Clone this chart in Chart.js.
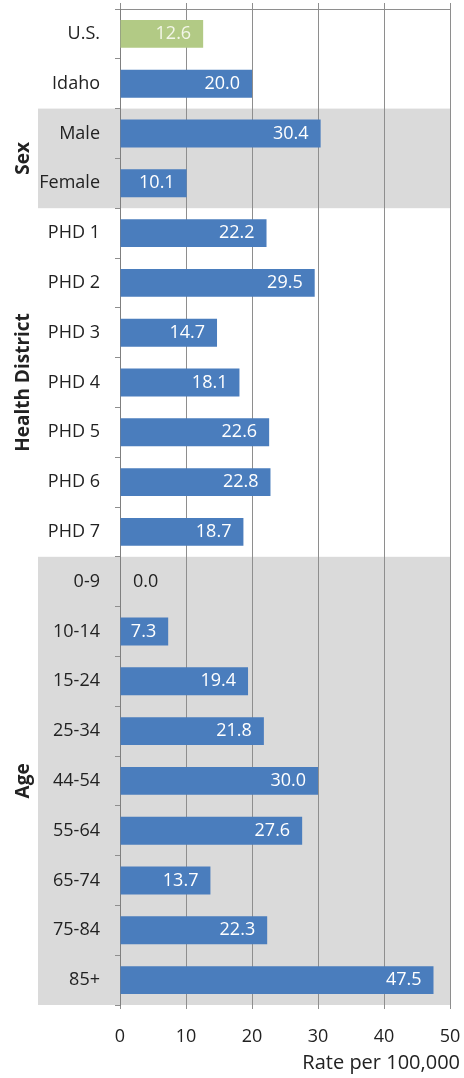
<!DOCTYPE html>
<html>
<head>
<meta charset="utf-8">
<script src="https://cdn.jsdelivr.net/npm/chart.js@4/dist/chart.umd.min.js"></script>
<style>
html,body{margin:0;padding:0;background:#fff;}
#wrap{width:464px;height:1078px;position:relative;}
</style>
</head>
<body>
<div id="wrap"><canvas id="c" width="464" height="1078"></canvas></div>
<script>
const categories = ['U.S.','Idaho','Male','Female','PHD 1','PHD 2','PHD 3','PHD 4','PHD 5','PHD 6','PHD 7','0-9','10-14','15-24','25-34','44-54','55-64','65-74','75-84','85+'];
const rates = [12.6,20.0,30.4,10.1,22.2,29.5,14.7,18.1,22.6,22.8,18.7,0.0,7.3,19.4,21.8,30.0,27.6,13.7,22.3,47.5];
const xTickValues = [0,10,20,30,40,50];
const xTitle = 'Rate per 100,000';
const groupNames = ['Sex','Health District','Age'];
const groupFirst = ['Male','PHD 1','0-9'];
const groupLast = ['Female','PHD 7','85+'];
const groupShaded = [true,false,true];

const FONT = "'Open Sans', sans-serif";
const BLUE = '#4a7dbd';
const GREEN = '#b2ca85';
const TEXT = '#222222';
const GRID = '#8e8e8e';

const bandsPlugin = {
  id: 'bands',
  beforeDraw(chart) {
    const ctx = chart.ctx, y = chart.scales.y, area = chart.chartArea;
    const step = (y.getPixelForValue(1) - y.getPixelForValue(0));
    ctx.save();
    ctx.fillStyle = '#dadada';
    groupNames.forEach((g, i) => {
      if (!groupShaded[i]) return;
      const a = categories.indexOf(groupFirst[i]), b = categories.indexOf(groupLast[i]);
      const top = y.getPixelForValue(a) - step / 2;
      const bot = y.getPixelForValue(b) + step / 2;
      ctx.fillRect(38, top, area.right - 38, bot - top);
    });
    ctx.restore();
  },
  afterDraw(chart) {
    const ctx = chart.ctx, y = chart.scales.y;
    ctx.save();
    ctx.fillStyle = TEXT;
    ctx.font = "bold 19px " + FONT;
    ctx.textAlign = 'center';
    ctx.textBaseline = 'middle';
    groupNames.forEach((g, i) => {
      const a = categories.indexOf(groupFirst[i]), b = categories.indexOf(groupLast[i]);
      const cy = (y.getPixelForValue(a) + y.getPixelForValue(b)) / 2;
      ctx.save();
      ctx.translate(24, cy);
      ctx.rotate(-Math.PI / 2);
      ctx.fillText(g, 0, 0);
      ctx.restore();
    });
    ctx.font = "20px " + FONT;
    ctx.textAlign = 'right';
    ctx.fillText(xTitle, 460, 1063);
    ctx.restore();
  }
};

const valueLabels = {
  id: 'valueLabels',
  afterDatasetsDraw(chart) {
    const ctx = chart.ctx;
    const meta = chart.getDatasetMeta(0);
    ctx.save();
    ctx.font = "18px " + FONT;
    ctx.textBaseline = 'middle';
    meta.data.forEach((bar, i) => {
      const v = rates[i];
      const txt = v.toFixed(1);
      if (v === 0) {
        ctx.fillStyle = TEXT;
        ctx.textAlign = 'left';
        ctx.fillText(txt, bar.base + 13, bar.y);
      } else {
        ctx.fillStyle = i === 0 ? '#f3f6e8' : '#ffffff';
        ctx.textAlign = 'right';
        ctx.fillText(txt, bar.x - 12, bar.y);
      }
    });
    ctx.restore();
  }
};

function noPad(s) { s.paddingTop = 0; s.paddingBottom = 0; s.paddingLeft = 0; s.paddingRight = 0; }

new Chart(document.getElementById('c'), {
  type: 'bar',
  data: {
    labels: categories,
    datasets: [{
      data: rates,
      backgroundColor: (c) => categories[c.dataIndex] === 'U.S.' ? GREEN : BLUE,
      borderWidth: 0,
      barPercentage: 0.56,
      categoryPercentage: 1.0
    }]
  },
  options: {
    indexAxis: 'y',
    responsive: false,
    animation: false,
    devicePixelRatio: 1,
    layout: { padding: { top: 3, right: 14, bottom: 0, left: 0 } },
    plugins: { legend: { display: false }, tooltip: { enabled: false } },
    scales: {
      x: {
        type: 'linear',
        position: 'bottom',
        min: 0, max: 50,
        afterBuildTicks: (s) => { s.ticks = xTickValues.map(v => ({ value: v })); },
        afterFit: (s) => { s.height = 73; noPad(s); },
        grid: { color: GRID, lineWidth: 1, drawTicks: true, tickLength: 4, tickColor: GRID },
        border: { display: false },
        ticks: { color: TEXT, font: { family: FONT, size: 18 }, padding: 17, maxRotation: 0 }
      },
      x2: {
        type: 'linear',
        position: 'top',
        min: 0, max: 50,
        afterBuildTicks: (s) => { s.ticks = xTickValues.map(v => ({ value: v })); },
        afterFit: (s) => { s.height = 6; noPad(s); },
        grid: { drawOnChartArea: false, drawTicks: true, tickLength: 6, tickColor: GRID },
        border: { display: true, color: GRID },
        ticks: { display: false }
      },
      y: {
        type: 'category',
        position: 'left',
        afterFit: (s) => { s.width = 120; noPad(s); },
        grid: { drawOnChartArea: false, drawTicks: true, tickLength: 5, tickColor: GRID, offset: true },
        border: { display: true, color: '#7f7f7f' },
        ticks: { color: TEXT, font: { family: FONT, size: 18 }, padding: 15, autoSkip: false }
      }
    }
  },
  plugins: [bandsPlugin, valueLabels]
});
</script>
</body>
</html>
